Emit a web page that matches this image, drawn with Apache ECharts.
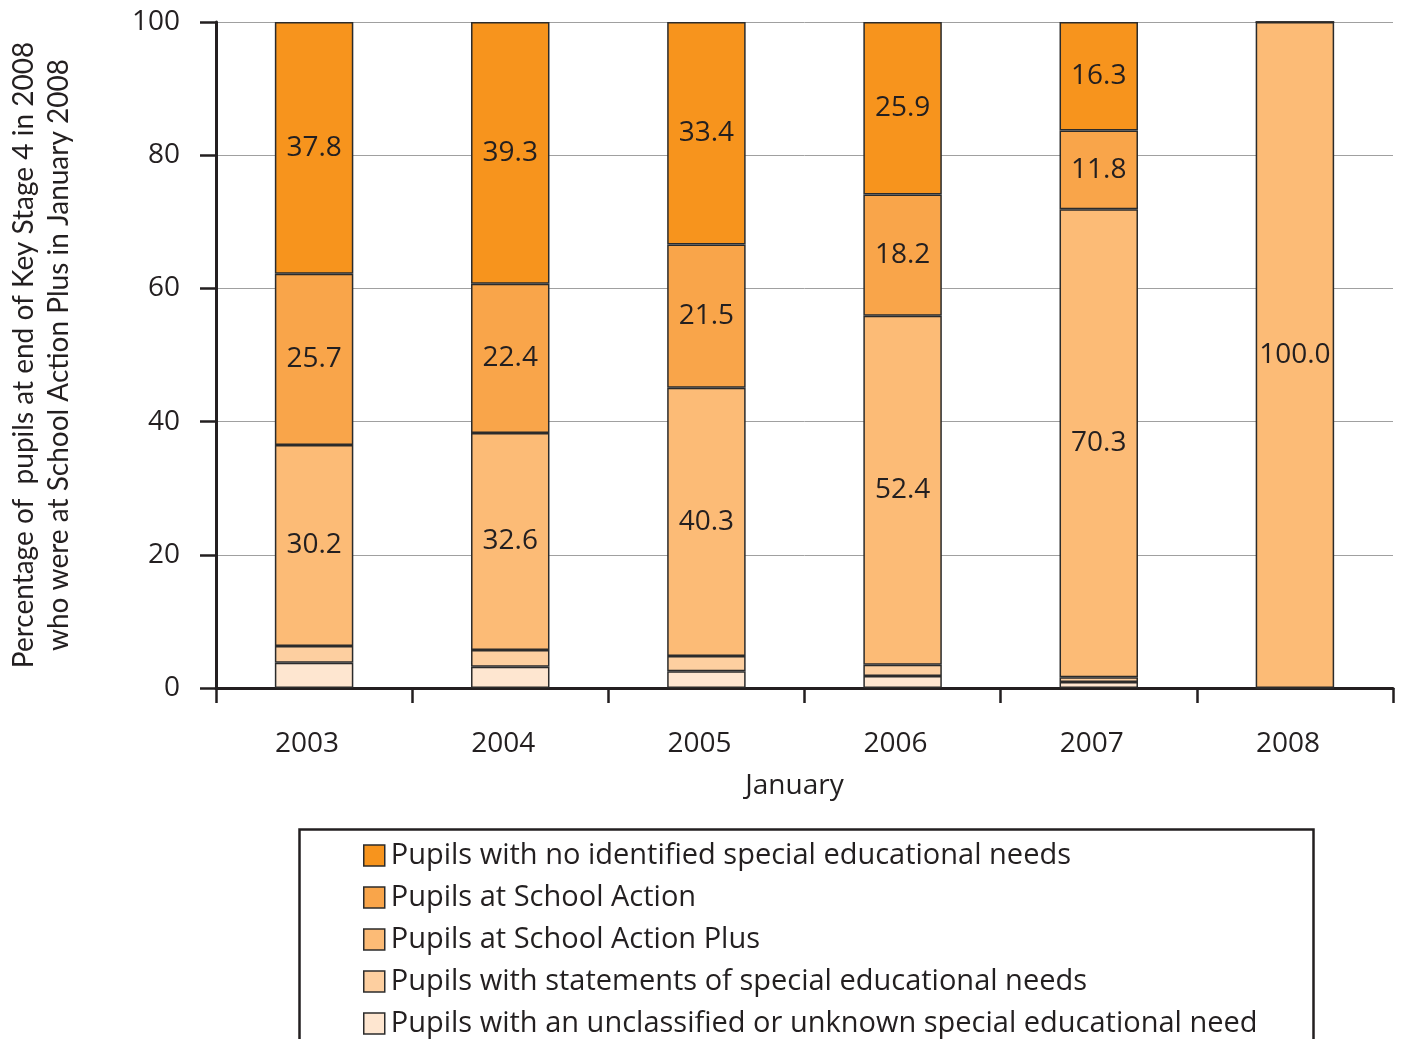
<!DOCTYPE html>
<html><head><meta charset="utf-8">
<script src="https://cdn.jsdelivr.net/npm/echarts@6/dist/echarts.min.js"></script>
<style>html,body{margin:0;padding:0;background:#fff}#c{width:1402px;height:1039px}</style>
</head><body><div id="c"></div>
<script>
const years = ['2003','2004','2005','2006','2007','2008'];
const noSEN = [37.8, 39.3, 33.4, 25.9, 16.3, 0];
const schoolAction = [25.7, 22.4, 21.5, 18.2, 11.8, 0];
const schoolActionPlus = [30.2, 32.6, 40.3, 52.4, 70.3, 100.0];
const statements = [2.5, 2.5, 2.3, 1.7, 0.7, 0];
const unclassified = [3.8, 3.2, 2.5, 1.8, 0.9, 0];
const yTicks = [0, 20, 40, 60, 80, 100];

const names = [
  'Pupils with no identified special educational needs',
  'Pupils at School Action',
  'Pupils at School Action Plus',
  'Pupils with statements of special educational needs',
  'Pupils with an unclassified or unknown special educational need'
];
const colors = ['#F7941D', '#F9A54A', '#FCBB76', '#FDCFA0', '#FEE6D0'];
const FONT = 'Open Sans';
const txt = '#231F20';

function ser(i, data, showLabel) {
  return {
    name: names[i], type: 'bar', stack: 's', data: data, barWidth: '40%',
    itemStyle: { color: colors[i], borderColor: '#2b2b2b', borderWidth: 1.5 },
    label: {
      show: showLabel, position: 'inside', color: txt, fontFamily: FONT, fontSize: 28,
      formatter: p => p.value > 0 ? Number(p.value).toFixed(1) : ''
    },
    emphasis: { disabled: true }
  };
}

const chart = echarts.init(document.getElementById('c'));
chart.setOption({
  animation: false,
  backgroundColor: '#fff',
  grid: { left: 216, right: 9, top: 22, bottom: 351, containLabel: false, outerBoundsMode: 'none' },
  xAxis: {
    type: 'category', data: years,
    axisLine: { lineStyle: { color: '#231F20', width: 3 } },
    axisTick: { show: true, length: 15, lineStyle: { color: '#231F20', width: 2.5 } },
    axisLabel: { color: txt, fontFamily: FONT, fontSize: 28, margin: 42, padding: [0, 14, 0, 0] },
    name: 'January', nameLocation: 'middle', nameGap: 84,
    nameTextStyle: { color: txt, fontFamily: FONT, fontSize: 28, padding: [0, 20, 0, 0] }
  },
  yAxis: {
    type: 'value', min: 0, max: 100, interval: 20,
    axisLine: { show: true, lineStyle: { color: '#231F20', width: 3 } },
    axisTick: { show: true, length: 16, lineStyle: { color: '#231F20', width: 2.5 } },
    axisLabel: { color: txt, fontFamily: FONT, fontSize: 28, margin: 36,
      formatter: v => yTicks.includes(v) ? String(v) : '' },
    splitLine: { lineStyle: { color: '#a0a0a0', width: 1 } },
    name: 'Percentage of  pupils at end of Key Stage 4 in 2008\nwho were at School Action Plus in January 2008',
    nameLocation: 'middle', nameRotate: 90, nameGap: 140,
    nameTextStyle: { color: txt, fontFamily: 'Lato', fontSize: 28, lineHeight: 35, align: 'center' }
  },
  legend: {
    data: names, orient: 'vertical', left: 358, top: 836, itemGap: 13, height: 400,
    itemWidth: 21, itemHeight: 21, icon: 'rect',
    itemStyle: { borderColor: '#2b2b2b', borderWidth: 1.5 },
    textStyle: { color: txt, fontFamily: FONT, fontSize: 29, padding: [0, 0, 0, 1] },
    selectedMode: false
  },
  graphic: [{
    type: 'rect', left: 297, top: 827,
    shape: { width: 1014, height: 240 },
    style: { fill: 'none', stroke: '#231F20', lineWidth: 2.5 }
  }],
  series: [
    ser(4, unclassified, false),
    ser(3, statements, false),
    ser(2, schoolActionPlus, true),
    ser(1, schoolAction, true),
    ser(0, noSEN, true)
  ]
});
</script></body></html>
